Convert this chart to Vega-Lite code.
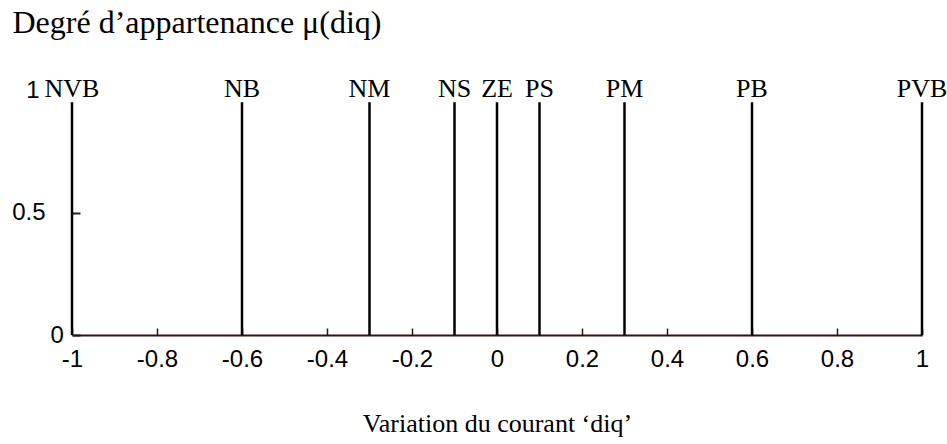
{
  "$schema": "https://vega.github.io/schema/vega-lite/v6.json",
  "width": 850,
  "height": 245,
  "autosize": "none",
  "padding": {"left": 72, "top": 90, "right": 25, "bottom": 109},
  "background": "white",
  "config": {"view": {"stroke": null}},
  "data": {
    "values": [
      {"diq": -1, "mu": 0.95, "label": "NVB"},
      {"diq": -0.6, "mu": 0.95, "label": "NB"},
      {"diq": -0.3, "mu": 0.95, "label": "NM"},
      {"diq": -0.1, "mu": 0.95, "label": "NS"},
      {"diq": 0, "mu": 0.95, "label": "ZE"},
      {"diq": 0.1, "mu": 0.95, "label": "PS"},
      {"diq": 0.3, "mu": 0.95, "label": "PM"},
      {"diq": 0.6, "mu": 0.95, "label": "PB"},
      {"diq": 1, "mu": 0.95, "label": "PVB"}
    ]
  },
  "encoding": {
    "x": {
      "field": "diq",
      "type": "quantitative",
      "scale": {"domain": [-1, 1], "nice": false, "zero": false},
      "axis": {
        "title": "Variation du courant ‘diq’",
        "titleFont": "Liberation Serif",
        "titleFontSize": 26,
        "titleFontWeight": "normal",
        "titleColor": "black",
        "titleBaseline": "alphabetic",
        "titleAlign": "center",
        "titleX": 425,
        "titleY": 96,
        "values": [-1, -0.8, -0.6, -0.4, -0.2, 0, 0.2, 0.4, 0.6, 0.8, 1],
        "labelExpr": "'' + datum.value",
        "labelFont": "Liberation Sans",
        "labelFontSize": 24,
        "labelColor": "black",
        "labelPadding": 31,
        "labelBaseline": "middle",
        "labelFlush": false,
        "labelOverlap": false,
        "grid": false,
        "domainColor": "#2b1712",
        "domainWidth": 2,
        "tickColor": "#2b1712",
        "tickWidth": 1.5,
        "tickSize": -7
      }
    }
  },
  "layer": [
    {
      "mark": {"type": "rule", "color": "black", "strokeWidth": 2.5},
      "encoding": {
        "y": {
          "field": "mu",
          "type": "quantitative",
          "datum": 0,
          "scale": {"domain": [0, 1], "nice": false},
          "axis": {
            "title": "Degré d’appartenance μ(diq)",
            "titleFont": "Liberation Serif",
            "titleFontSize": 32,
            "titleFontWeight": "normal",
            "titleColor": "black",
            "titleAngle": 0,
            "titleAlign": "left",
            "titleBaseline": "alphabetic",
            "titleX": -60,
            "titleY": -58,
            "values": [0, 0.5, 1],
            "labelExpr": "'' + datum.value",
            "labelFont": "Liberation Sans",
            "labelFontSize": 24,
            "labelColor": "black",
            "labelPadding": {"condition": [{"test": "datum.value == 1", "value": 41}, {"test": "datum.value == 0", "value": 30}], "value": 35},
            "labelAlign": {"condition": {"test": "datum.value == 0", "value": "left"}, "value": "right"},
            "labelBaseline": "middle",
            "labelFlush": false,
            "grid": false,
            "domain": false,
            "tickColor": "#2b1712",
            "tickOpacity": {"condition": {"test": "datum.value == 1", "value": 0}, "value": 1},
            "tickWidth": 2,
            "tickSize": -8
          }
        },
        "y2": {"field": "mu"}
      }
    },
    {
      "mark": {"type": "text", "font": "Liberation Serif", "fontSize": 26, "color": "black", "baseline": "alphabetic", "align": "center", "dy": -5},
      "encoding": {
        "y": {"field": "mu", "type": "quantitative"},
        "text": {"field": "label"}
      }
    }
  ]
}
